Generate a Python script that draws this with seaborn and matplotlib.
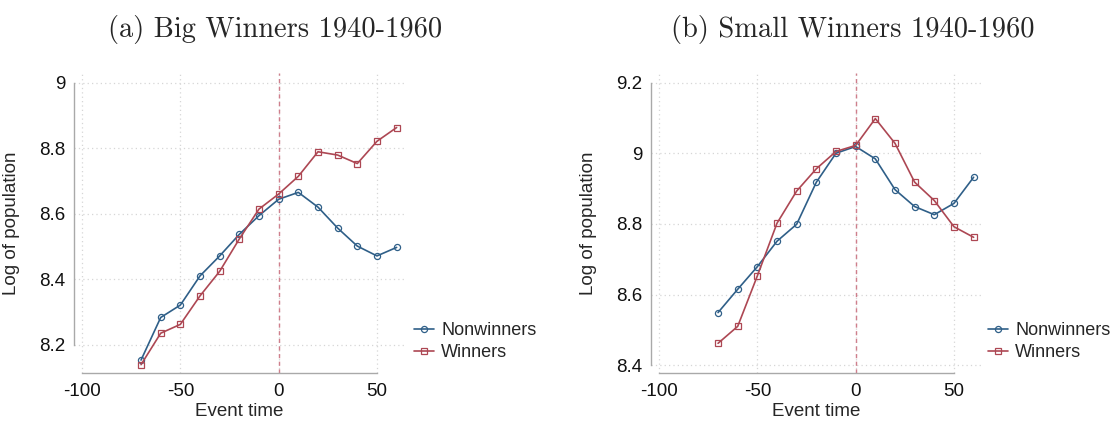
import numpy as np
import pandas as pd
import matplotlib
matplotlib.use("Agg")
import matplotlib.pyplot as plt
import seaborn as sns
from matplotlib.lines import Line2D

# ---------------- data ----------------
event_time = [-70, -60, -50, -40, -30, -20, -10, 0, 10, 20, 30, 40, 50, 60]

big_nonwinners = [8.154, 8.284, 8.322, 8.411, 8.472, 8.538, 8.595, 8.645, 8.666,
                  8.621, 8.557, 8.502, 8.472, 8.498]
big_winners = [8.140, 8.236, 8.263, 8.350, 8.425, 8.524, 8.615, 8.661, 8.715,
               8.790, 8.780, 8.754, 8.822, 8.864]

small_nonwinners = [8.549, 8.615, 8.679, 8.751, 8.799, 8.918, 9.000, 9.019, 8.984,
                    8.897, 8.849, 8.826, 8.858, 8.932]
small_winners = [8.462, 8.510, 8.653, 8.802, 8.893, 8.956, 9.005, 9.022, 9.098,
                 9.028, 8.918, 8.866, 8.792, 8.762]

groups = ["Nonwinners", "Winners"]
titles = ["(a) Big Winners 1940-1960", "(b) Small Winners 1940-1960"]
xticks = [-100, -50, 0, 50]
yticks_a = [8.2, 8.4, 8.6, 8.8, 9.0]
yticks_b = [8.4, 8.6, 8.8, 9.0, 9.2]
ytick_labels_a = ["8.2", "8.4", "8.6", "8.8", "9"]
ytick_labels_b = ["8.4", "8.6", "8.8", "9", "9.2"]

# ---------------- style ----------------
sns.set_style("white")
plt.rcParams["font.family"] = ["Liberation Sans", "DejaVu Sans"]

BLUE = "#2f5f88"
RED = "#ad4753"
palette = {"Nonwinners": BLUE, "Winners": RED}
markers = {"Nonwinners": "o", "Winners": "s"}
SPINE = "#a9a9a9"
GRID = "#d6d6d6"
FS = 13.5
LFS = 13
MS = 4.4

W, H = 1114, 422
fig = plt.figure(figsize=(W / 100, H / 100), dpi=100)


def make_df(nw, w):
    return pd.DataFrame({
        "Event time": event_time * 2,
        "Log of population": nw + w,
        "group": [groups[0]] * len(event_time) + [groups[1]] * len(event_time),
    })


panels = [
    (make_df(big_nonwinners, big_winners), 74, (8.1145, 9.0305), yticks_a, ytick_labels_a, (8.2, 9.0)),
    (make_df(small_nonwinners, small_winners), 651, (8.378, 9.227), yticks_b, ytick_labels_b, (8.4, 9.2)),
]
legend_x_px = [414, 988]

for i, (df, left_px, ylim, yt, ytl, ybounds) in enumerate(panels):
    ax = fig.add_axes([left_px / W, 1 - 373 / H, 330 / W, 300 / H])
    ax.set_xlim(-104.1, 63.75)
    ax.set_ylim(*ylim)
    # grid
    for xv in xticks:
        ax.axvline(xv, color=GRID, lw=0.9, ls=(0, (1, 2.5)), zorder=0)
    for yv in yt:
        ax.axhline(yv, color=GRID, lw=0.9, ls=(0, (1, 2.5)), zorder=0)
    ax.axvline(0, color="#cf7f8c", lw=1.0, ls=(0, (3, 2.5)), zorder=1)

    sns.lineplot(data=df, x="Event time", y="Log of population", hue="group",
                 style="group", markers=markers, dashes=False, palette=palette,
                 linewidth=1.2, markersize=MS, markeredgewidth=0.9,
                 ax=ax, legend=False, zorder=3)
    for ln in ax.lines:
        if ln.get_marker() not in (None, "None", ""):
            ln.set_markeredgecolor(ln.get_color())
            ln.set_markerfacecolor("none")

    for sp in ["top", "right"]:
        ax.spines[sp].set_visible(False)
    for sp in ["left", "bottom"]:
        ax.spines[sp].set_color(SPINE)
        ax.spines[sp].set_linewidth(1.0)
    ax.spines["left"].set_bounds(*ybounds)
    ax.spines["bottom"].set_bounds(-100, 50)

    ax.set_xticks(xticks)
    ax.set_xticklabels([str(v) for v in xticks])
    ax.set_yticks(yt)
    ax.set_yticklabels(ytl)
    ax.tick_params(axis="both", which="major", length=4, width=1.0,
                   color=SPINE, labelsize=FS, labelcolor="#111111", direction="out")
    ax.tick_params(axis="x", pad=3)
    ax.tick_params(axis="y", pad=2)
    ax.set_xlabel("Event time", fontsize=FS, labelpad=2)
    ax.set_ylabel("Log of population", fontsize=FS)
    ax.yaxis.set_label_coords(-54 / 330, 0.5)

    # legend
    handles = [Line2D([0], [0], color=palette[g], marker=markers[g], lw=1.2,
                      markersize=MS, markeredgewidth=0.9, markerfacecolor="none")
               for g in groups]
    fig.legend(handles, groups, loc="upper left",
               bbox_to_anchor=(legend_x_px[i] / W, 1 - 322 / H), frameon=False,
               fontsize=LFS, handlelength=1.1, handletextpad=0.4,
               labelspacing=0.3, borderpad=0, borderaxespad=0)

# titles
fig.text(275.5 / W, 1 - 30 / H, titles[0], family="cmr10", fontsize=20.5,
         ha="center", va="center")
fig.text(853 / W, 1 - 30 / H, titles[1], family="cmr10", fontsize=20.5,
         ha="center", va="center")

fig.savefig("out.png", dpi=100, facecolor="white")
